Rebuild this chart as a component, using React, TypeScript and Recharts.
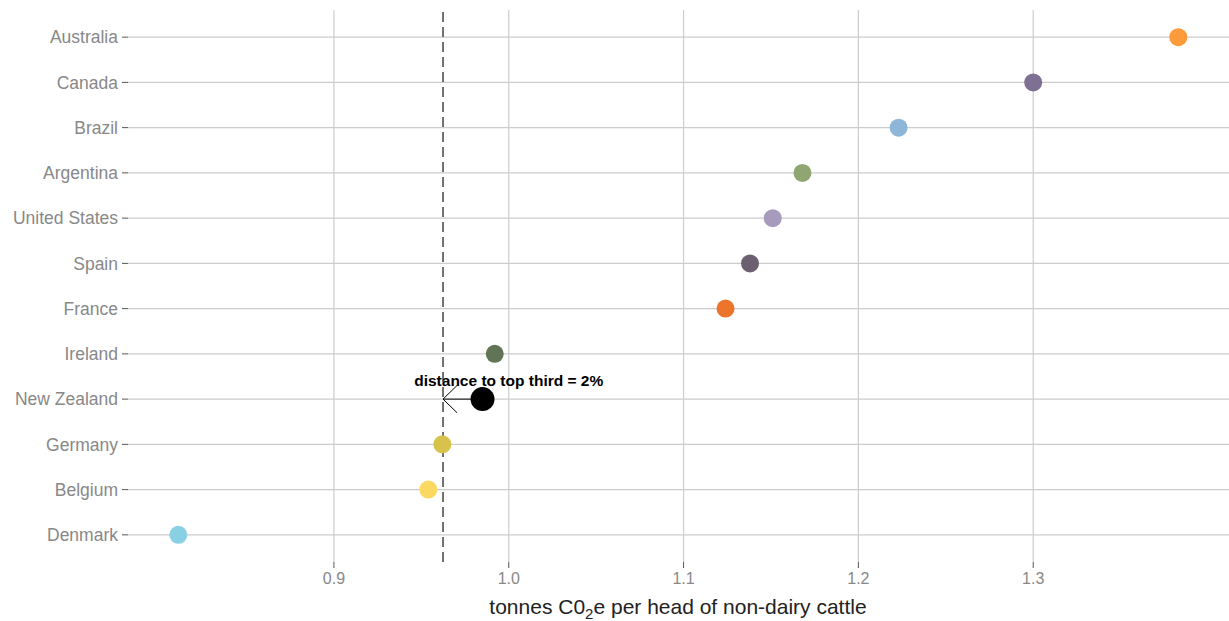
import { ScatterChart, Scatter, XAxis, YAxis, CartesianGrid, ReferenceLine, ReferenceDot, Cell } from 'recharts';

// Countries from bottom (1) to top (12)
const countries = [
  'Denmark', 'Belgium', 'Germany', 'New Zealand', 'Ireland', 'France',
  'Spain', 'United States', 'Argentina', 'Brazil', 'Canada', 'Australia',
];
const emissions = [0.811, 0.954, 0.962, 0.985, 0.992, 1.124, 1.138, 1.151, 1.168, 1.223, 1.3, 1.383];
const colors = [
  '#8ad0e4', '#fbd960', '#d7c24c', '#000000', '#617556', '#ed742b',
  '#6b5f70', '#a79bbd', '#8fa673', '#8db6d9', '#7d7092', '#fd9a3b',
];
const xTicks = [0.9, 1.0, 1.1, 1.2, 1.3];
const topThird = 0.9624;
const highlight = 'New Zealand';

const data = countries.map((c, i) => ({ country: c, pos: i + 1, value: emissions[i] }));
const nzRow = countries.indexOf(highlight) + 1;
const nzValue = emissions[nzRow - 1];

const font = 'Liberation Sans, Arial, sans-serif';

const Dot = (props: any) => {
  const { cx, cy, fill, payload } = props;
  const r = payload.country === highlight ? 12 : 9;
  return <circle cx={cx} cy={cy} r={r} fill={fill} />;
};

const AxisTitle = () => (
  <text x={678} y={614} textAnchor="middle" fontSize={21} fill="#222" fontFamily={font}>
    tonnes C0<tspan fontSize={15} dy={5}>2</tspan><tspan dy={-5}>e per head of non-dairy cattle</tspan>
  </text>
);

export default function App() {
  return (
    <div style={{ position: 'absolute', left: 0, top: 0, background: '#fff' }}>
      <ScatterChart width={1229} height={621} margin={{ top: 10, right: 0, bottom: 29, left: 0 }}>
        <CartesianGrid stroke="#cccccc" strokeWidth={1.2} syncWithTicks />
        <XAxis
          type="number"
          dataKey="value"
          domain={[0.7822, 1.412]}
          ticks={xTicks}
          allowDataOverflow
          tickFormatter={(v: number) => v.toFixed(1)}
          axisLine={false}
          tickLine={{ stroke: '#555' }}
          tickSize={6}
          tickMargin={5}
          height={30}
          tick={{ fill: '#888', fontSize: 16, fontFamily: font }}
        />
        <YAxis
          type="number"
          dataKey="pos"
          domain={[0.4, 12.6]}
          ticks={data.map((d) => d.pos)}
          interval={0}
          allowDataOverflow
          tickFormatter={(v: number) => countries[v - 1]}
          axisLine={false}
          tickLine={{ stroke: '#555' }}
          tickSize={6}
          tickMargin={4}
          width={128}
          tick={{ fill: '#888', fontSize: 17.5, fontFamily: font }}
        />
        <ReferenceLine x={topThird} stroke="#444" strokeWidth={1.5} strokeDasharray="10 5" />
        <ReferenceLine segment={[{ x: nzValue, y: nzRow }, { x: topThird, y: nzRow }]} stroke="#000" strokeWidth={1} />
        <ReferenceLine segment={[{ x: topThird, y: nzRow }, { x: topThird + 0.008, y: nzRow + 0.3 }]} stroke="#000" strokeWidth={1} />
        <ReferenceLine segment={[{ x: topThird, y: nzRow }, { x: topThird + 0.008, y: nzRow - 0.3 }]} stroke="#000" strokeWidth={1} />
        <Scatter data={data} shape={Dot} isAnimationActive={false}>
          {data.map((d, i) => (
            <Cell key={d.country} fill={colors[i]} />
          ))}
        </Scatter>
        <ReferenceDot
          x={1.0}
          y={nzRow + 0.42}
          r={0}
          fill="none"
          stroke="none"
          label={{
            value: 'distance  to top third = 2%',
            position: 'center',
            fill: '#000',
            fontSize: 15.5,
            fontWeight: 'bold',
            fontFamily: font,
          }}
        />
        <AxisTitle />
      </ScatterChart>
    </div>
  );
}
